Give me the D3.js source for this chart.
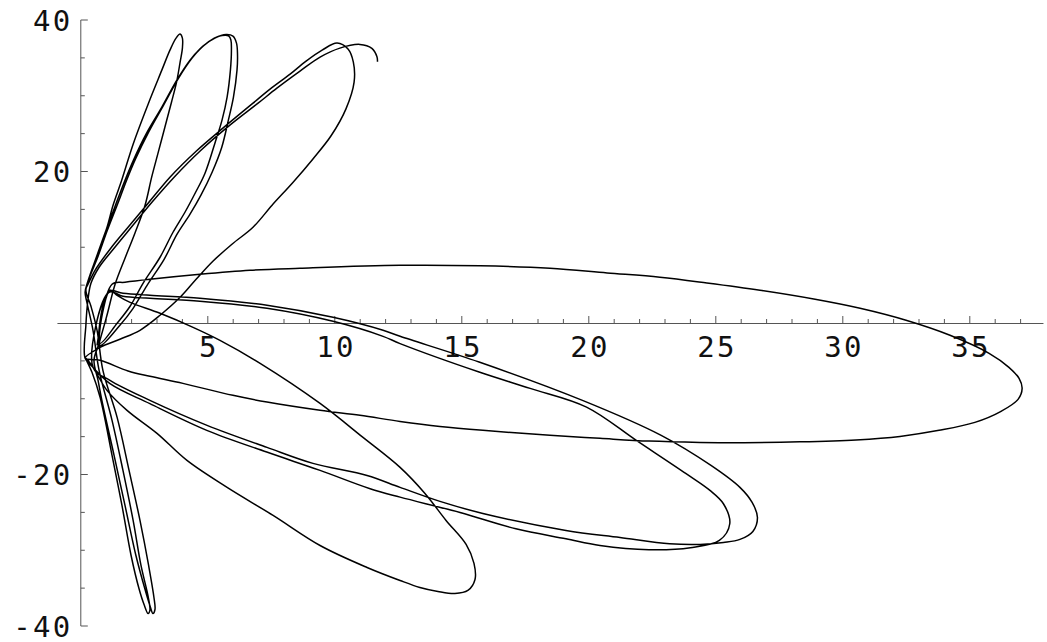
<!DOCTYPE html>
<html><head><meta charset="utf-8">
<script src="https://cdn.jsdelivr.net/npm/d3@7"></script>
<style>
html,body{margin:0;padding:0;background:#fff;}
svg{display:block;}
</style></head><body>
<svg id="chart" width="1047" height="642"></svg>
<script>
// Trajectory samples [x, y], listed loop by loop in the order they are traversed.
const loopDownRight = [[0.64,-2.95],[1.15,4.32],[1.43,3.66],[1.94,2.73],[3.12,1.28],[4.42,-0.57],[5.48,-2.29],[7.06,-5.32],[9.42,-10.61],[11.11,-15.10],[12.57,-19.06],[13.55,-22.50],[14.38,-26.06],[15.17,-29.23],[15.48,-31.74],[15.52,-33.86],[15.24,-35.31],[14.73,-35.71],[14.06,-35.44],[13.35,-34.91],[12.57,-33.99],[11.27,-32.27],[9.42,-29.37],[7.57,-25.40],[5.76,-21.70],[4.18,-18.14],[3.00,-14.57],[1.82,-11.53],[1.03,-8.89],[0.48,-5.85],[0.20,-4.66]];
const loopDownA = [[0.44,-6.51],[0.76,-9.82],[1.23,-17.48],[1.62,-24.08],[1.98,-30.69],[2.29,-35.05],[2.49,-37.16],[2.65,-38.35],[2.72,-37.95],[2.65,-36.10],[2.37,-32.01],[2.06,-26.06],[1.66,-19.46],[1.23,-12.85],[0.72,-6.25],[0.48,-0.96],[0.24,2.73],[0.17,4.06]];
const loopUpNarrow = [[0.28,5.51],[0.64,8.94],[1.02,12.51],[1.27,15.55],[1.61,18.85],[2.06,23.61],[2.65,28.89],[3.19,33.38],[3.51,36.02],[3.75,37.61],[3.91,38.14],[4.00,37.61],[4.00,36.29],[3.91,34.44],[3.77,31.80],[3.57,29.15],[3.31,25.85],[3.04,22.42],[2.79,19.25],[2.53,15.55],[2.13,11.85],[1.74,8.55],[1.35,5.11],[1.03,1.02],[0.72,-2.68],[0.52,-4.93]];
const loopDownB = [[0.68,-7.57],[0.83,-10.21],[1.31,-17.48],[1.74,-24.08],[2.17,-30.69],[2.53,-35.18],[2.72,-37.29],[2.84,-38.35],[2.92,-37.82],[2.88,-36.24],[2.67,-32.01],[2.33,-26.06],[1.90,-19.46],[1.43,-12.46],[0.87,-6.25],[0.64,-0.96],[0.40,2.21],[0.20,4.32]];
const loopUpInner = [[0.32,5.90],[0.60,8.55],[0.95,11.85],[1.35,15.42],[1.74,18.85],[2.07,21.49],[2.59,25.06],[3.19,28.49],[3.78,32.06],[4.30,34.70],[4.69,36.16],[5.13,37.35],[5.56,37.94],[5.83,37.87],[5.91,37.35],[5.93,36.02],[5.89,33.38],[5.76,29.82],[5.56,26.78],[5.28,23.74],[4.89,19.78],[4.50,17.13],[4.10,14.62],[3.63,11.98],[3.12,8.68],[2.45,5.24],[1.94,2.21],[1.43,-0.04],[0.76,-2.68]];
const loopHorizontal = [[1.23,5.11],[1.74,5.38],[2.72,5.77],[4.69,6.43],[6.66,6.96],[8.63,7.23],[12.57,7.62],[15.72,7.56],[18.47,7.23],[20.72,6.61],[22.80,6.04],[24.65,5.28],[26.74,4.32],[28.91,3.13],[30.68,1.94],[32.49,0.36],[34.22,-1.62],[35.76,-4.00],[36.54,-5.85],[36.94,-7.31],[37.06,-8.63],[36.90,-10.08],[36.23,-11.66],[35.20,-13.12],[33.79,-14.17],[32.25,-14.97],[30.52,-15.43],[28.31,-15.69],[26.11,-15.80],[24.38,-15.76],[22.37,-15.59],[20.44,-15.23],[18.47,-14.83],[15.83,-14.17],[14.14,-13.65],[12.57,-12.99],[10.99,-12.19],[9.42,-11.53],[7.33,-10.44],[5.99,-9.55],[4.02,-7.97],[2.72,-7.04],[1.86,-6.34],[0.76,-4.93],[0.17,-4.66]];
const loopUpRightA = [[0.76,-3.21],[1.54,-2.15],[2.33,-0.96],[3.12,1.02],[3.91,3.39],[4.54,5.77],[5.20,8.15],[5.95,10.40],[6.78,12.64],[7.53,15.55],[8.35,18.55],[9.14,21.66],[9.86,24.75],[10.44,28.27],[10.76,31.80],[10.73,34.44],[10.52,36.16],[10.09,36.95],[9.50,36.02],[8.87,34.57],[8.24,32.85],[7.45,30.87],[6.78,29.02],[5.64,25.85],[4.54,22.68],[3.51,19.25],[2.65,15.81],[1.86,12.64],[1.15,9.74],[0.56,6.96],[0.20,4.58]];
const loopUpOuter = [[0.36,6.17],[0.68,8.81],[1.03,12.11],[1.43,15.55],[1.82,18.98],[2.15,21.62],[2.67,25.19],[3.26,28.76],[3.85,32.33],[4.38,34.97],[4.81,36.55],[5.28,37.61],[5.72,38.07],[5.99,37.87],[6.13,36.95],[6.17,35.36],[6.15,33.38],[6.01,29.82],[5.81,26.78],[5.55,23.21],[5.17,19.91],[4.73,16.87],[4.30,14.36],[3.79,11.72],[3.28,8.41],[2.61,4.98],[2.06,1.94],[1.54,-0.30],[0.76,-2.95]];
const loopRightOuter = [[1.11,4.19],[1.66,3.92],[2.72,3.66],[4.69,3.26],[7.33,2.34],[9.93,0.75],[11.90,-0.96],[12.57,-1.76],[15.68,-5.15],[19.75,-10.21],[22.85,-14.83],[24.81,-18.80],[25.95,-21.70],[26.43,-23.69],[26.64,-25.67],[26.46,-27.52],[25.95,-28.57],[25.30,-28.97],[24.38,-29.23],[23.18,-29.14],[21.23,-28.31],[19.10,-27.38],[15.83,-25.14],[14.14,-23.55],[12.57,-21.70],[11.27,-20.12],[9.14,-18.53],[7.33,-16.42],[4.97,-13.51],[2.72,-10.21],[1.15,-7.57],[0.48,-5.85]];
const loopRightInner = [[1.11,4.06],[1.66,3.53],[2.72,3.26],[4.69,2.87],[7.33,1.94],[9.93,0.22],[11.90,-1.76],[12.57,-2.72],[15.68,-6.47],[17.69,-8.63],[19.91,-11.10],[21.87,-15.50],[23.83,-19.89],[24.77,-22.10],[25.30,-23.86],[25.55,-26.50],[25.14,-28.71],[24.00,-29.67],[22.37,-29.93],[20.44,-29.37],[19.10,-28.48],[17.13,-27.16],[14.93,-25.01],[12.57,-22.99],[11.39,-21.88],[9.42,-19.46],[7.32,-17.04],[4.96,-14.17],[2.72,-10.65],[1.15,-8.01],[0.44,-5.72],[0.17,-4.66]];
const loopUpRightB = [[0.20,-0.30],[0.28,3.00],[0.40,5.24],[0.72,7.36],[1.31,9.87],[2.02,12.77],[2.80,15.94],[3.71,19.38],[4.73,22.81],[5.87,26.12],[6.98,29.02],[7.72,31.00],[8.63,33.25],[9.42,35.10],[10.20,36.29],[10.99,36.78],[11.46,36.25],[11.66,35.14],[11.68,34.48]];

const orbitLoops = [loopDownRight, loopDownA, loopUpNarrow, loopDownB, loopUpInner,
  loopHorizontal, loopUpRightA, loopUpOuter, loopRightOuter, loopRightInner, loopUpRightB];

// Axes
const xExtent = [-0.92, 37.9];
const yExtent = [-40, 40];
const xMajor = [5, 10, 15, 20, 25, 30, 35];
const xLabels = ["5", "10", "15", "20", "25", "30", "35"];
const yMajor = [-40, -20, 20, 40];
const yLabels = ["-40", "-20", "20", "40"];

const svg = d3.select("#chart");
const x = d3.scaleLinear().domain([0, 35]).range([80.8, 969.8]);
const y = d3.scaleLinear().domain([-40, 40]).range([626, 20]);

const axisColor = "#555";
const axes = svg.append("g").attr("stroke", axisColor).attr("stroke-width", 1);

axes.append("line")
  .attr("x1", x(xExtent[0])).attr("x2", x(xExtent[1]))
  .attr("y1", y(0) + 0.5).attr("y2", y(0) + 0.5);
axes.append("line")
  .attr("x1", x(0)).attr("x2", x(0))
  .attr("y1", y(yExtent[0])).attr("y2", y(yExtent[1]));

const xMinor = d3.range(1, 38).filter(v => v % 5 !== 0);
const yMinor = d3.range(-35, 40, 5).filter(v => v % 20 !== 0);

axes.selectAll(".xminor").data(xMinor).join("line")
  .attr("x1", d => x(d)).attr("x2", d => x(d))
  .attr("y1", y(0)).attr("y2", y(0) - 4);
axes.selectAll(".xmajor").data(xMajor).join("line")
  .attr("x1", d => x(d)).attr("x2", d => x(d))
  .attr("y1", y(0)).attr("y2", y(0) - 7);
axes.selectAll(".yminor").data(yMinor).join("line")
  .attr("x1", x(0)).attr("x2", x(0) + 4)
  .attr("y1", d => y(d)).attr("y2", d => y(d));
axes.selectAll(".ymajor").data(yMajor).join("line")
  .attr("x1", x(0)).attr("x2", x(0) + 7)
  .attr("y1", d => y(d)).attr("y2", d => y(d));

const labelFont = {family: "DejaVu Sans Mono", size: 29, spacing: 2.2};

svg.append("g").selectAll("text").data(xMajor).join("text")
  .attr("x", d => x(d) + labelFont.spacing / 2)
  .attr("y", y(0) + 34)
  .attr("text-anchor", "middle")
  .attr("font-family", labelFont.family)
  .attr("font-size", labelFont.size)
  .attr("letter-spacing", labelFont.spacing)
  .attr("fill", "#111")
  .text((d, i) => xLabels[i]);

svg.append("g").selectAll("text").data(yMajor).join("text")
  .attr("x", x(0) - 8.5)
  .attr("y", d => y(d) + 10.5)
  .attr("text-anchor", "end")
  .attr("font-family", labelFont.family)
  .attr("font-size", labelFont.size)
  .attr("letter-spacing", labelFont.spacing)
  .attr("fill", "#111")
  .text((d, i) => yLabels[i]);

// Orbit curve
const orbit = orbitLoops.flat();
const line = d3.line()
  .x(d => x(d[0]))
  .y(d => y(d[1]))
  .curve(d3.curveCatmullRom.alpha(0.5));

svg.append("path")
  .datum(orbit)
  .attr("d", line)
  .attr("fill", "none")
  .attr("stroke", "#000")
  .attr("stroke-width", 1.5)
  .attr("stroke-linejoin", "round");
</script>
</body></html>
